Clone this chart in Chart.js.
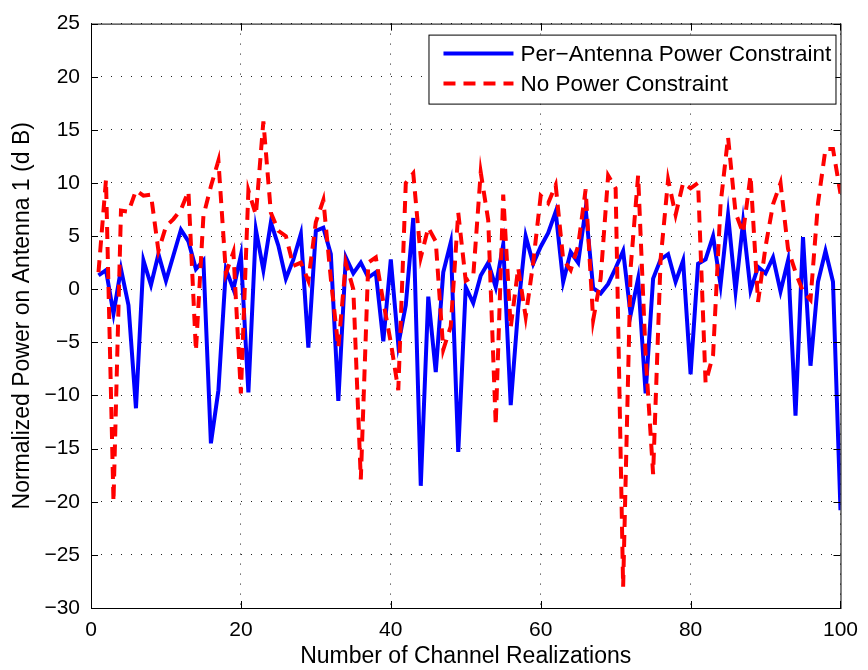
<!DOCTYPE html>
<html>
<head>
<meta charset="utf-8">
<title>Normalized Power on Antenna 1</title>
<script src="https://cdn.jsdelivr.net/npm/chart.js@4.4.1/dist/chart.umd.min.js"></script>
<style>
  html, body { margin: 0; padding: 0; background: #fff; }
  #wrap { width: 868px; height: 670px; position: relative; }
</style>
</head>
<body>
<div id="wrap"><canvas id="chart"></canvas></div>
<script>
// channel realization index (x axis)
const realizations = Array.from({ length: 100 }, (_, i) => i + 1);

// Per-Antenna Power Constraint (dB)
const perAntenna = [
  1.3, 1.8, -2.3, 1.9, -1.5, -11.2, 2.7, 0.4, 3.3, 0.8,
  3.2, 5.6, 4.5, 1.9, 2.7, -14.5, -9.5, 1.9, 0.0, 3.2,
  -9.7, 5.6, 1.8, 6.3, 4.1, 1.0, 2.8, 5.2, -5.5, 5.5,
  5.8, 3.3, -10.5, 3.0, 1.5, 2.5, 1.1, 1.6, -4.9, 2.8,
  -5.2, -1.5, 6.7, -18.5, -0.7, -7.8, 1.6, 4.4, -15.3, 0.2,
  -1.3, 1.3, 2.5, 0.2, 4.2, -10.9, -1.8, 5.0, 2.4, 4.0,
  5.3, 7.3, 0.7, 3.5, 2.5, 7.6, 0.1, -0.4, 0.5, 2.0,
  3.6, -2.4, 1.0, -9.8, 1.0, 2.8, 3.3, 0.7, 2.7, -8.0,
  2.4, 2.8, 5.0, 0.4, 7.0, -0.2, 6.3, -0.1, 2.1, 1.5,
  3.0, -0.2, 2.7, -11.9, 4.9, -7.2, 0.7, 3.6, 0.7, -20.8
];

// No Power Constraint (dB)
const noConstraint = [
  1.6, 10.3, -20.0, 7.4, 7.3, 9.3, 8.8, 8.9, 3.6, 5.9,
  6.6, 7.5, 9.2, -5.8, 6.9, 9.7, 12.1, 1.5, 3.5, -9.8,
  9.3, 7.0, 15.8, 7.2, 5.5, 5.0, 2.2, 2.5, 0.8, 6.3,
  8.4, 1.0, -5.5, 2.5, 0.0, -17.9, 2.5, 3.0, -1.2, -5.0,
  -9.5, 10.0, 10.9, 3.0, 5.8, 4.5, -5.7, -3.5, 7.2, 0.8,
  1.2, 11.0, 6.5, -12.8, 8.9, -3.6, 2.0, -2.6, 2.5, 8.8,
  8.1, 9.8, 2.8, 1.8, 4.1, 9.4, -2.9, 1.0, 10.7, 9.5,
  -28.0, 2.0, 10.7, -6.2, -17.4, 2.8, 10.3, 7.0, 10.0, 9.5,
  10.0, -8.8, -6.2, 8.0, 14.3, 7.2, 5.3, 10.7, -1.2, 4.0,
  8.0, 10.0, 3.8, 1.6, -0.2, -1.0, 8.1, 13.2, 13.2, 9.0
];

const seriesNames = ["Per\u2212Antenna Power Constraint", "No Power Constraint"];
const xLimits = [0, 100];
const yLimits = [-30, 25];

const FONT = "'Liberation Sans', Arial, Helvetica, sans-serif";

// box round the axes, ticks pointing inwards, and the legend inside the plot
const matlabFrame = {
  id: "matlabFrame",
  afterDraw(chart) {
    const { ctx, chartArea: a, scales } = chart;
    ctx.save();
    ctx.strokeStyle = "#000";
    ctx.lineWidth = 1;
    ctx.strokeRect(a.left + 0.5, a.top + 0.5, a.right - a.left, a.bottom - a.top);

    ctx.beginPath();
    scales.x.ticks.forEach(t => {
      const px = Math.round(scales.x.getPixelForValue(t.value)) + 0.5;
      ctx.moveTo(px, a.bottom); ctx.lineTo(px, a.bottom - 7);
      ctx.moveTo(px, a.top); ctx.lineTo(px, a.top + 7);
    });
    scales.y.ticks.forEach(t => {
      const py = Math.round(scales.y.getPixelForValue(t.value)) + 0.5;
      ctx.moveTo(a.left, py); ctx.lineTo(a.left + 7, py);
      ctx.moveTo(a.right, py); ctx.lineTo(a.right - 7, py);
    });
    ctx.stroke();

    // legend
    const left = a.right - 412, top = a.top + 11, w = 407, h = 69;
    ctx.fillStyle = "#fff";
    ctx.fillRect(left, top, w, h);
    ctx.strokeRect(left + 0.5, top + 0.5, w, h);
    ctx.font = "22.5px " + FONT;
    ctx.textBaseline = "middle";
    chart.data.datasets.forEach((ds, i) => {
      const y = top + 19 + i * 30;
      ctx.save();
      ctx.strokeStyle = ds.borderColor;
      ctx.lineWidth = ds.borderWidth;
      ctx.setLineDash(ds.borderDash || []);
      ctx.beginPath();
      ctx.moveTo(left + 15, y);
      ctx.lineTo(left + 85, y);
      ctx.stroke();
      ctx.restore();
      ctx.fillStyle = "#000";
      ctx.fillText(ds.label, left + 92, y + 1);
    });
    ctx.restore();
  }
};

const toPoints = values => values.map((v, i) => ({ x: realizations[i], y: v }));

new Chart(document.getElementById("chart"), {
  type: "line",
  plugins: [matlabFrame],
  data: {
    datasets: [
      {
        label: seriesNames[0],
        data: toPoints(perAntenna),
        borderColor: "#0000ff",
        borderWidth: 4,
        pointRadius: 0,
        tension: 0,
        order: 1
      },
      {
        label: seriesNames[1],
        data: toPoints(noConstraint),
        borderColor: "#ff0000",
        borderWidth: 4,
        borderDash: [12, 8],
        pointRadius: 0,
        tension: 0,
        order: 0
      }
    ]
  },
  options: {
    responsive: true,
    maintainAspectRatio: false,
    animation: false,
    layout: { padding: { left: 0, right: 25, top: 16, bottom: 0 } },
    plugins: {
      legend: { display: false },
      tooltip: { enabled: false }
    },
    scales: {
      x: {
        type: "linear",
        min: xLimits[0],
        max: xLimits[1],
        afterFit: s => { s.height = 62; },
        ticks: {
          stepSize: 20,
          color: "#000",
          padding: 10,
          maxRotation: 0,
          font: { family: FONT, size: 21 }
        },
        grid: { color: "#222", lineWidth: 1, drawTicks: false },
        border: { display: false, dash: [1, 9] },
        title: {
          display: true,
          text: "Number of Channel Realizations",
          color: "#000",
          font: { family: FONT, size: 23 },
          padding: { top: 0, bottom: 0 }
        }
      },
      y: {
        min: yLimits[0],
        max: yLimits[1],
        afterFit: s => { s.width = 91; },
        ticks: {
          stepSize: 5,
          color: "#000",
          padding: 11,
          font: { family: FONT, size: 21 },
          callback: v => (v < 0 ? "\u2212" + Math.abs(v) : String(v))
        },
        grid: { color: "#222", lineWidth: 1, drawTicks: false },
        border: { display: false, dash: [1, 9] },
        title: {
          display: true,
          text: "Normalized Power on Antenna 1 (d B)",
          color: "#000",
          font: { family: FONT, size: 23 },
          padding: { top: 9, bottom: 0 }
        }
      }
    }
  }
});
</script>
</body>
</html>
